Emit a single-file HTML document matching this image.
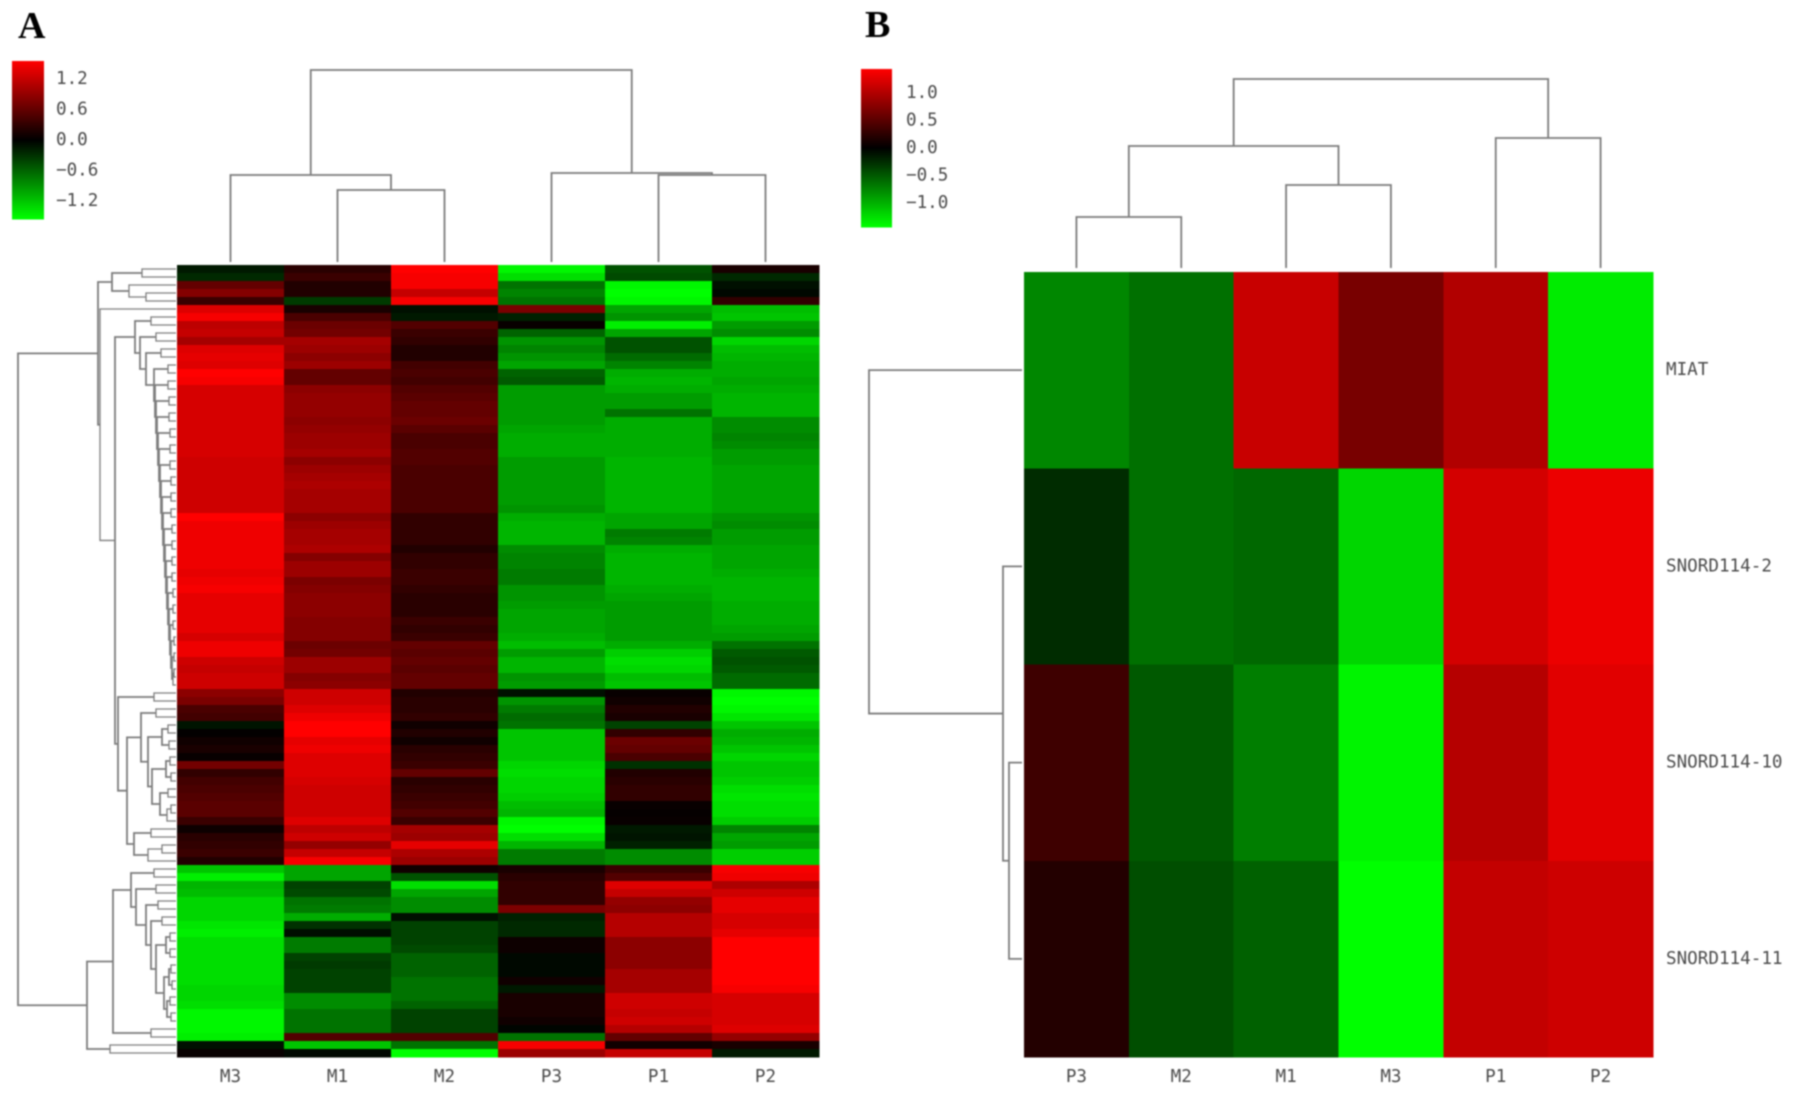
<!DOCTYPE html>
<html lang="en">
<head>
<meta charset="utf-8">
<title>Clustered heatmaps A and B</title>
<style>
html,body{margin:0;padding:0;background:#fff;width:1795px;height:1096px;overflow:hidden}
svg{display:block;filter:blur(0.7px)}
.tick{font-family:"DejaVu Sans Mono","Liberation Mono",monospace;font-size:17.6px;fill:#4a4a4a}
.panel{font-family:"Liberation Serif",serif;font-weight:bold;font-size:38px;fill:#000}
</style>
</head>
<body>
<svg id="figure" width="1795" height="1096" viewBox="0 0 1795 1096" xmlns="http://www.w3.org/2000/svg">
<text class="panel" x="18" y="38">A</text>
<text class="panel" x="865" y="37">B</text>
</svg>
<script>
const colsA = ['M3','M1','M2','P3','P1','P2'];
const colsB = ['P3','M2','M1','M3','P1','P2'];
const rowsB = ['MIAT','SNORD114-2','SNORD114-10','SNORD114-11'];
const ticksA = [1.2,0.6,0,-0.6,-1.2];
const ticksB = [1,0.5,0,-0.5,-1];
const vmaxA = 1.55;
const vmaxB = 1.44;
const heatB = [
[-.76,-.63,1.13,.68,1.0,-1.33],
[-.25,-.63,-.59,-1.21,1.19,1.33],
[.35,-.5,-.71,-1.38,1.02,1.27],
[.2,-.44,-.55,-1.44,1.1,1.16]
];
const heatA = [
[-.15,.25,1.55,-1.5,-.5,.15],
[-.25,.35,1.5,-1.35,-.45,-.25],
[.6,.2,1.5,-.7,-1.5,-.1],
[.8,.2,1.2,-.8,-1.55,-.05],
[.35,-.35,1.5,-.7,-1.5,.3],
[1.35,.15,-.1,.75,-1.0,-1.15],
[1.5,.45,-.15,-.2,-.9,-1.2],
[1.15,.65,.5,.05,-1.45,-.95],
[1.2,.7,.35,-.6,-1.0,-.85],
[1.0,1.0,.3,-.9,-.5,-1.3],
[1.35,.95,.2,-.8,-.5,-1.15],
[1.4,.85,.2,-.9,-.65,-1.1],
[1.35,.95,.4,-1.0,-.8,-1.05],
[1.55,.6,.45,-.6,-1.05,-1.05],
[1.5,.6,.4,-.55,-1.1,-1.0],
[1.3,.85,.5,-.95,-1.05,-1.05],
[1.3,.9,.55,-.95,-.95,-1.1],
[1.3,.9,.6,-.95,-.95,-1.1],
[1.3,.9,.6,-.95,-.7,-1.1],
[1.3,.85,.65,-.95,-1.05,-.85],
[1.3,.9,.55,-1.0,-1.05,-.85],
[1.3,.95,.45,-1.05,-1.05,-.8],
[1.3,.95,.45,-1.05,-1.05,-.85],
[1.3,1.0,.5,-1.05,-1.05,-.95],
[1.25,.85,.5,-.95,-1.1,-.95],
[1.25,.95,.45,-.95,-1.1,-1.0],
[1.25,1.0,.45,-.95,-1.1,-1.0],
[1.25,1.05,.45,-.95,-1.1,-1.0],
[1.25,1.0,.45,-.95,-1.1,-1.0],
[1.25,1.0,.45,-.95,-1.1,-1.0],
[1.25,1.0,.45,-.9,-1.1,-1.0],
[1.55,.85,.3,-1.05,-1.0,-.9],
[1.45,.95,.3,-1.1,-1.0,-.85],
[1.45,1.0,.3,-1.1,-.75,-.95],
[1.45,1.0,.3,-1.1,-.8,-.95],
[1.45,1.05,.2,-.85,-1.05,-1.0],
[1.45,.8,.3,-.8,-1.1,-1.0],
[1.45,.95,.3,-.8,-1.1,-1.0],
[1.4,.95,.35,-.75,-1.1,-1.05],
[1.45,.75,.35,-.75,-1.1,-1.1],
[1.5,.8,.3,-.9,-1.05,-1.1],
[1.4,.85,.25,-.9,-1.0,-1.1],
[1.4,.85,.25,-.95,-.95,-1.05],
[1.4,.85,.25,-1.0,-.95,-1.05],
[1.4,.8,.35,-1.0,-.95,-1.05],
[1.4,.8,.3,-1.0,-.95,-1.0],
[1.3,.8,.35,-1.05,-.95,-.95],
[1.45,.65,.6,-1.15,-1.05,-.7],
[1.45,.7,.55,-.95,-1.25,-.55],
[1.25,.95,.6,-1.1,-1.35,-.5],
[1.2,.95,.55,-1.1,-1.3,-.55],
[1.25,.8,.6,-.9,-1.15,-.65],
[1.25,.85,.6,-.95,-1.2,-.65],
[.85,1.25,.2,-.1,.05,-1.5],
[.75,1.25,.25,-.9,.1,-1.55],
[.45,1.35,.25,-.75,.2,-1.5],
[.4,1.45,.3,-.65,.15,-1.4],
[-.12,1.55,.1,-.7,-.4,-1.2],
[.02,1.55,.2,-1.2,.3,-1.05],
[.1,1.4,.1,-1.2,.65,-1.1],
[.15,1.45,.25,-1.2,.6,-1.2],
[.05,1.35,.3,-1.2,.45,-1.3],
[.7,1.35,.35,-1.3,-.3,-1.2],
[.3,1.35,.6,-1.35,.2,-1.2],
[.4,1.3,.25,-1.3,.25,-1.25],
[.45,1.25,.3,-1.3,.3,-1.35],
[.5,1.25,.35,-1.25,.3,-1.4],
[.55,1.25,.4,-1.15,.05,-1.35],
[.55,1.25,.5,-1.1,.03,-1.35],
[.35,1.35,.35,-1.5,.05,-1.25],
[.08,1.15,1.0,-1.55,-.15,-.8],
[.25,1.25,.95,-1.35,-.12,-1.0],
[.3,.9,1.4,-1.1,-.2,-.95],
[.35,1.2,1.05,-.75,-.85,-1.25],
[.2,1.5,.95,-.75,-.85,-1.25],
[-1.2,-1.0,.1,.15,.35,1.5],
[-1.45,-1.0,-.5,.25,.5,1.45],
[-1.1,-.4,-1.35,.3,1.35,1.05],
[-1.15,-.45,-1.0,.3,1.2,1.25],
[-1.3,-.7,-.85,.3,.9,1.4],
[-1.3,-.75,-.85,.75,.85,1.4],
[-1.3,-1.05,-.1,-.2,1.1,1.3],
[-1.4,-.3,-.4,-.25,1.1,1.3],
[-1.45,-.08,-.4,-.25,1.1,1.4],
[-1.35,-.75,-.4,.08,.85,1.55],
[-1.35,-.75,-.45,.08,.85,1.55],
[-1.35,-.4,-.6,-.05,.85,1.55],
[-1.35,-.35,-.6,-.05,.85,1.55],
[-1.35,-.4,-.6,-.05,1.0,1.55],
[-1.35,-.4,-.7,.1,1.0,1.55],
[-1.3,-.4,-.7,-.15,1.0,1.5],
[-1.3,-.85,-.7,.15,1.25,1.3],
[-1.35,-.85,-.6,.15,1.25,1.3],
[-1.5,-.7,-.4,.15,1.2,1.3],
[-1.5,-.7,-.4,.1,1.25,1.3],
[-1.5,-.7,-.4,-.03,1.1,1.35],
[-1.45,.5,.5,-.7,.6,.9],
[-.1,-1.2,-.7,1.5,.1,.15],
[.05,-.05,-1.55,.95,1.2,-.15]
];
// Dendrograms: [merge height, left, right]; 0 marks a leaf, leaves are taken in display order.
const colTreeA = [192,[87,0,[72,0,0]],[89,0,[87,0,0]]];
const colTreeB = [189,[122,[51,0,0],[83,0,0]],[130,0,0]];
const rowTreeB = [153,0,[19,0,[13,0,0]]];
const rowTreeA = [158,
  [78,
    [64,[34,0,0],[47,0,[30,0,0]]],
    [76,
      0,
      [61,
        [41,[25,0,0],[36,[20,0,0],[30,[15,0,0],
          [22,[8,0,0],[21,[8,0,0],[20,[7,0,0],[19,[7,0,0],[18,[6,0,0],[17,[6,0,0],[16,[6,0,0],[15,[5,0,0],
          [14,[5,0,0],[13,[5,0,0],[12,[4,0,0],[11,[4,0,0],[10,[4,0,0],[9,[4,0,0],[8,[3,0,0],[7,[3,0,0],
          [6,[3,0,0],[5,[2,0,0],[4,[2,0,0],[3,[2,0,0],0]]]]
          ]]]]]]]]]]]]]]]]
        ]]],
        [58,
          [22,0,0],
          [49,
            [35,[20,0,0],[28,[14,[8,0,0],[7,0,0]],[24,[10,[6,0,0],[5,0,0]],[16,[8,0,0],[9,[5,0,0],0]]]]],
            [42,[25,0,0],[28,[14,0,0],0]]
          ]
        ]
      ]
    ]
  ],
  [89,
    [63,
      [45,[22,0,0],[40,[20,0,0],[30,[18,0,0],[25,[14,0,0],
        [20,[10,[6,0,0],[6,0,0]],[12,[7,[5,0,0],[4,0,0]],[9,[6,0,0],[5,0,0]]]]
      ]]]],
      [25,0,0]
    ],
    [66,0,0]
  ]
];

const svg = document.getElementById('figure');
const NS = 'http://www.w3.org/2000/svg';
function add(tag, attrs) {
  const el = document.createElementNS(NS, tag);
  for (const k in attrs) el.setAttribute(k, attrs[k]);
  svg.appendChild(el);
  return el;
}
function colour(v, vmax) {
  const c = Math.min(255, Math.round(Math.abs(v) / vmax * 255));
  return v >= 0 ? 'rgb(' + c + ',0,0)' : 'rgb(0,' + c + ',0)';
}
function drawHeat(matrix, vmax, xf, yf, w, h) {
  matrix.forEach(function (row, r) {
    row.forEach(function (v, c) {
      const cell = add('rect', {x: xf(c), y: yf(r), width: w + 0.5, height: h + 0.5, fill: colour(v, vmax), 'shape-rendering': 'crispEdges'});
      
      
    });
  });
}
function drawTree(tree, leafPos, pt, stub) {
  let next = 0;
  function walk(node) {
    if (node === 0) return {p: leafPos(next++), h: 0, leaf: true};
    const a = walk(node[1]);
    const b = walk(node[2]);
    const h = node[0];
    const A0 = pt(a.p, a.h), A1 = pt(a.p, h), B1 = pt(b.p, h), B0 = pt(b.p, b.h);
    const line = add('path', {
      d: 'M' + A0 + 'L' + A1 + 'L' + B1 + 'L' + B0,
      fill: 'none', stroke: '#7c7c7c', 'stroke-width': (a.leaf || b.leaf) && stub ? stub : 1.8
    });
    
    
    return {p: (a.p + b.p) / 2, h: h, leaf: false};
  }
  walk(tree);
}
function drawLegend(x, y0, y1, w, vmax, ticks, labelX) {
  const n = 80;
  const mid = (y0 + y1) / 2;
  const half = (y1 - y0) / 2;
  const yv = function (v) { return mid - v / vmax * half; };
  for (let i = 0; i < n; i++) {
    const v = vmax - (i + 0.5) / n * 2 * vmax;
    const s = add('rect', {x: x, y: yv(vmax - i / n * 2 * vmax), width: w, height: 2 * half / n + 0.6, fill: colour(v, vmax), 'shape-rendering': 'crispEdges'});
    
    
  }
  ticks.forEach(function (t) {
    const label = add('text', {x: labelX, y: yv(t), class: 'tick', 'dominant-baseline': 'middle'});
    label.textContent = (t < 0 ? '\u2212' : '') + Math.abs(t).toFixed(1);
    
    
  });
}

/* Panel A */
const cwA = 107, rhA = 8;
const xA = function (c) { return 177 + c * cwA; };
const yA = function (r) { return 265 + r * rhA; };
drawHeat(heatA, vmaxA, xA, yA, cwA, rhA);
drawLegend(12, 61, 219, 32, vmaxA, ticksA, 56);
colsA.forEach(function (name, c) {
  const t = add('text', {x: xA(c) + cwA / 2, y: 1077, class: 'tick', 'text-anchor': 'middle', 'dominant-baseline': 'middle'});
  t.textContent = name;
  
  
});
drawTree(colTreeA, function (i) { return xA(i) + cwA / 2; }, function (p, h) { return p + ',' + (262 - h); });
drawTree(rowTreeA, function (i) { return yA(i) + rhA / 2; }, function (p, h) { return (176 - h) + ',' + p; }, 1.3);

/* Panel B */
const cwB = (1653 - 1024) / 6, rhB = (1057 - 272) / 4;
const xB = function (c) { return 1024 + c * cwB; };
const yB = function (r) { return 272 + r * rhB; };
drawHeat(heatB, vmaxB, xB, yB, cwB, rhB);
drawLegend(861, 69, 227, 31, vmaxB, ticksB, 906);
colsB.forEach(function (name, c) {
  const t = add('text', {x: xB(c) + cwB / 2, y: 1077, class: 'tick', 'text-anchor': 'middle', 'dominant-baseline': 'middle'});
  t.textContent = name;
  
  
});
rowsB.forEach(function (name, r) {
  const t = add('text', {x: 1666, y: yB(r) + rhB / 2, class: 'tick', 'dominant-baseline': 'middle'});
  t.textContent = name;
  
  
});
drawTree(colTreeB, function (i) { return xB(i) + cwB / 2; }, function (p, h) { return p + ',' + (268 - h); });
drawTree(rowTreeB, function (i) { return yB(i) + rhB / 2; }, function (p, h) { return (1022 - h) + ',' + p; });
</script>
</body>
</html>
